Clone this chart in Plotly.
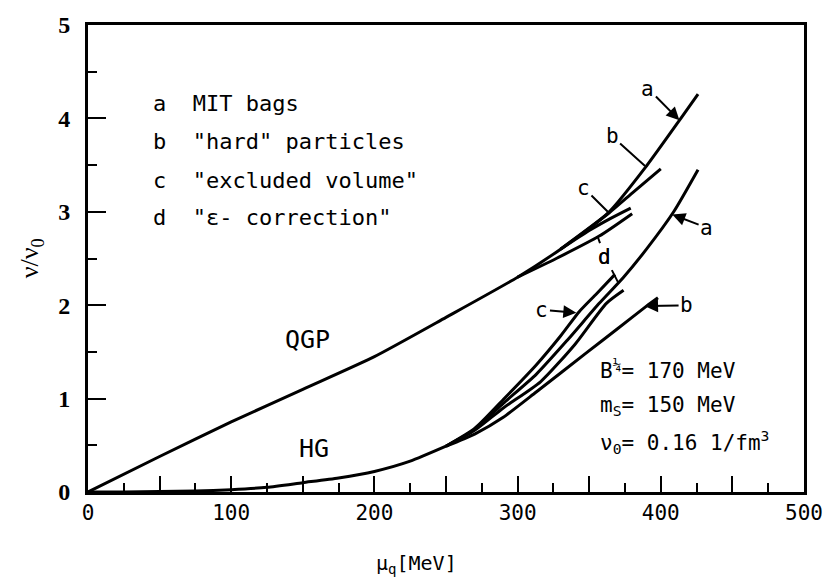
import plotly.graph_objects as go

# ---- data ----
# QGP branch: common part (curve a) and the split ends
qgp_a_mu = [0, 50, 100, 150, 200, 250, 300, 330, 364, 390, 414, 426]
qgp_a_v = [0, 0.38, 0.75, 1.10, 1.45, 1.87, 2.30, 2.60, 3.00, 3.49, 4.00, 4.26]
qgp_b_mu = [330, 364, 380, 400]
qgp_b_v = [2.60, 2.99, 3.20, 3.46]
qgp_c_mu = [330, 350, 365, 379]
qgp_c_v = [2.60, 2.80, 2.93, 3.04]
qgp_d_mu = [300, 327, 357, 380]
qgp_d_v = [2.30, 2.50, 2.74, 2.98]

# HG branch: common low-density part and the four models
hg_base_mu = [0, 25, 50, 75, 100, 125, 150, 175, 200, 225, 250]
hg_base_v = [0, 0.0, 0.005, 0.01, 0.025, 0.05, 0.10, 0.15, 0.22, 0.33, 0.49]
hg_a_mu = [250, 270, 290, 313, 335, 357, 374, 390, 409, 426]
hg_a_v = [0.49, 0.67, 0.95, 1.26, 1.63, 2.02, 2.30, 2.60, 3.00, 3.45]
hg_c_mu = [250, 270, 290, 313, 330, 343, 355, 368]
hg_c_v = [0.49, 0.68, 0.99, 1.36, 1.67, 1.93, 2.12, 2.33]
hg_d_mu = [250, 270, 290, 316, 340, 362, 374]
hg_d_v = [0.49, 0.66, 0.90, 1.18, 1.58, 2.02, 2.16]
hg_b_mu = [250, 270, 290, 313, 348, 370, 390, 398]
hg_b_v = [0.49, 0.62, 0.80, 1.07, 1.49, 1.75, 1.99, 2.08]

x_ticks = [0, 50, 100, 150, 200, 250, 300, 350, 400, 450, 500]
x_tick_text = ["0", "", "100", "", "200", "", "300", "", "400", "", "500"]
y_ticks = [0, 1, 2, 3, 4, 5]

legend_lines = ['a  MIT bags', 'b  "hard" particles',
                'c  "excluded volume"', 'd  "\u03b5- correction"']
param_lines = ['B<sup>\u00bc</sup>= 170 MeV', 'm<sub>S</sub>= 150 MeV',
               '\u03bd<sub>0</sub>= 0.16 1/fm<sup>3</sup>']

MONO = "DejaVu Sans Mono"
SERIF = "Liberation Serif"

fig = go.Figure()
LW = 3


def add_curve(mx, vy):
    fig.add_trace(go.Scatter(x=mx, y=vy, mode="lines",
                             line=dict(color="black", width=LW, shape="spline", smoothing=0.6),
                             showlegend=False, hoverinfo="skip"))


add_curve(qgp_a_mu, qgp_a_v)
add_curve(qgp_b_mu, qgp_b_v)
add_curve(qgp_c_mu, qgp_c_v)
add_curve(qgp_d_mu, qgp_d_v)
add_curve(hg_base_mu, hg_base_v)
add_curve(hg_a_mu, hg_a_v)
add_curve(hg_c_mu, hg_c_v)
add_curve(hg_d_mu, hg_d_v)
add_curve(hg_b_mu, hg_b_v)

fig.update_layout(
    width=835, height=583,
    margin=dict(l=88, r=24, t=17, b=91),
    paper_bgcolor="white", plot_bgcolor="white",
    showlegend=False,
    xaxis=dict(range=[0, 500], tickvals=x_ticks, ticktext=x_tick_text, ticks="inside", ticklen=16, tickwidth=2,
               minor=dict(dtick=25, tick0=0, ticks="inside", ticklen=9, tickwidth=2, tickcolor="black"),
               showline=True, linewidth=3, linecolor="black", mirror=True, showgrid=False,
               zeroline=False, tickcolor="black",
               tickfont=dict(family=MONO, size=21, color="black")),
    yaxis=dict(range=[0, 5], tickvals=y_ticks, ticks="inside", ticklen=18, tickwidth=2,
               minor=dict(dtick=0.5, tick0=0, ticks="inside", ticklen=9, tickwidth=2, tickcolor="black"),
               showline=True, linewidth=3, linecolor="black", mirror=True, showgrid=False,
               zeroline=False, tickcolor="black", ticklabelstandoff=10,
               tickfont=dict(family=SERIF, size=24, color="black", weight="bold")),
)

ann = []
# axis titles
ann.append(dict(xref="paper", yref="paper", x=-0.080, y=0.50, text="\u03bd/\u03bd<sub>0</sub>",
                textangle=-90, showarrow=False, font=dict(family=SERIF, size=26, color="black"),
                xanchor="center", yanchor="middle"))
ann.append(dict(xref="paper", yref="paper", x=0.459, y=-0.154, text="\u03bc<sub>q</sub>[MeV]",
                showarrow=False, font=dict(family=MONO, size=20, color="black"),
                xanchor="center", yanchor="middle"))
# legend block
for i, t in enumerate(legend_lines):
    ann.append(dict(xref="x", yref="y", x=44, y=[4.16, 3.75, 3.34, 2.94][i], text=t, showarrow=False,
                    xanchor="left", yanchor="middle", font=dict(family=MONO, size=22, color="black")))
# parameters
for i, t in enumerate(param_lines):
    ann.append(dict(xref="x", yref="y", x=356, y=[1.32, 0.92, 0.54][i], text=t, showarrow=False,
                    xanchor="left", yanchor="middle", font=dict(family=MONO, size=21, color="black")))
# phase labels
ann.append(dict(xref="x", yref="y", x=153, y=1.63, text="QGP", showarrow=False,
                font=dict(family=MONO, size=25, color="black")))
ann.append(dict(xref="x", yref="y", x=158, y=0.47, text="HG", showarrow=False,
                font=dict(family=MONO, size=25, color="black")))


def lab(t, lx, ly, tx, ty, head=2):
    ann.append(dict(xref="x", yref="y", axref="x", ayref="y", x=tx, y=ty, ax=lx, ay=ly, text=t,
                    showarrow=True, arrowhead=head, arrowsize=1.3, arrowwidth=2, arrowcolor="black",
                    standoff=0, font=dict(family=MONO, size=21, color="black")))


lab("a", 391, 4.32, 413, 3.98)
lab("b", 366, 3.81, 389, 3.49, head=0)
lab("c", 346, 3.26, 363, 3.00, head=0)
lab("a", 432, 2.83, 408, 2.97)
lab("d", 361, 2.52, 356, 2.73, head=0)
lab("d", 361, 2.52, 370, 2.25, head=0)
lab("c", 317, 1.95, 341, 1.92)
lab("b", 418, 2.00, 389, 1.99)

fig.update_layout(annotations=ann)
fig.write_html("out.html")
